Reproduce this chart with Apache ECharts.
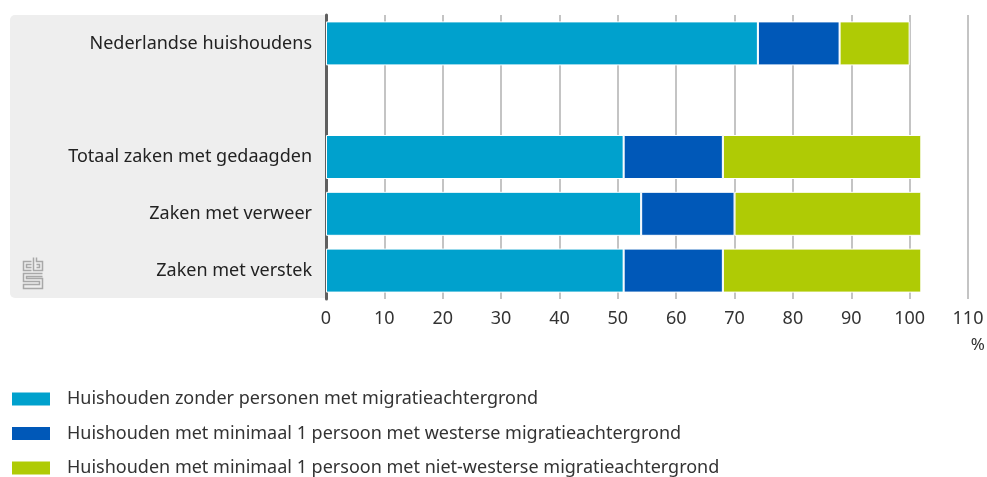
<!DOCTYPE html>
<html>
<head>
<meta charset="utf-8">
<script src="https://cdn.jsdelivr.net/npm/echarts@6/dist/echarts.min.js"></script>
<style>
  html, body { margin: 0; padding: 0; background: #fff; }
  #chart { width: 987px; height: 477px; }
</style>
</head>
<body>
<div id="chart"></div>
<script>
// categorieen (lege regel als scheiding)
var categories = ['Nederlandse huishoudens', '', 'Totaal zaken met gedaagden', 'Zaken met verweer', 'Zaken met verstek'];
var seriesNames = [
  'Huishouden zonder personen met migratieachtergrond',
  'Huishouden met minimaal 1 persoon met westerse migratieachtergrond',
  'Huishouden met minimaal 1 persoon met niet-westerse migratieachtergrond'
];
var zonderMigratie = [74, '-', 51, 54, 51];
var westers = [14, '-', 17, 16, 17];
var nietWesters = [12, '-', 34, 32, 34];
var xTicks = [0, 10, 20, 30, 40, 50, 60, 70, 80, 90, 100, 110];

var colors = ['#00a1cd', '#0058b8', '#afcb05'];
var font = '"Noto Sans", sans-serif';

var chart = echarts.init(document.getElementById('chart'));

function bar(name, data, color) {
  return {
    name: name,
    type: 'bar',
    stack: 'totaal',
    barWidth: 44,
    data: data,
    itemStyle: { color: color, borderColor: '#fff', borderWidth: 1 },
    emphasis: { disabled: true }
  };
}

// cbs logo, grof nagetekend
var lijn = { stroke: '#a8a8a8', lineWidth: 1.5, fill: null };
var logo = {
  type: 'group',
  left: 21, top: 255,
  children: [
    { type: 'polyline', shape: { points: [[9, 4], [1, 4], [1, 13], [9, 13]] }, style: lijn },
    { type: 'polyline', shape: { points: [[9, 7], [4, 7], [4, 10], [9, 10]] }, style: lijn },
    { type: 'polyline', shape: { points: [[11, 0], [11, 13], [20, 13], [20, 4], [14, 4], [14, 0]] }, style: lijn },
    { type: 'polyline', shape: { points: [[14, 7], [17, 7], [17, 10], [14, 10]] }, style: lijn },
    { type: 'polyline', shape: { points: [[20, 16], [1, 16], [1, 24], [17, 24], [17, 27], [1, 27], [1, 31], [20, 31], [20, 21], [4, 21], [4, 19], [20, 19]] }, style: lijn }
  ]
};

var option = {
  animation: false,
  textStyle: { fontFamily: font },
  grid: { left: 326, right: 19, top: 15, bottom: 178, containLabel: false },
  graphic: [
    { type: 'rect', left: 10, top: 15, z: -10, shape: { width: 316, height: 283, r: [5, 0, 0, 5] }, style: { fill: '#eeeeee' } },
    logo,
    { type: 'text', right: 2, top: 337, style: { text: '%', font: '17px ' + font, fill: '#333' } }
  ],
  legend: {
    orient: 'vertical',
    left: 10, top: 390, height: 120,
    padding: 0,
    itemWidth: 40, itemHeight: 15, itemGap: 16.5,
    icon: 'rect',
    selectedMode: false,
    textStyle: { fontSize: 18, color: '#333', fontFamily: font, padding: [0, 0, 0, 11] },
    data: seriesNames
  },
  xAxis: {
    type: 'value',
    min: xTicks[0], max: xTicks[xTicks.length - 1], interval: 10,
    axisLine: { show: false },
    axisTick: { show: false },
    axisLabel: { fontSize: 18, color: '#333', margin: 11 },
    splitLine: { lineStyle: { color: '#c4c4c4', width: 2 } }
  },
  yAxis: {
    type: 'category',
    inverse: true,
    data: categories,
    axisTick: { show: false },
    axisLine: { lineStyle: { color: '#5f5f5f', width: 3 } },
    axisLabel: { fontSize: 18, color: '#222', margin: 14 }
  },
  series: [
    bar(seriesNames[0], zonderMigratie, colors[0]),
    bar(seriesNames[1], westers, colors[1]),
    bar(seriesNames[2], nietWesters, colors[2])
  ]
};

chart.setOption(option);
</script>
</body>
</html>
